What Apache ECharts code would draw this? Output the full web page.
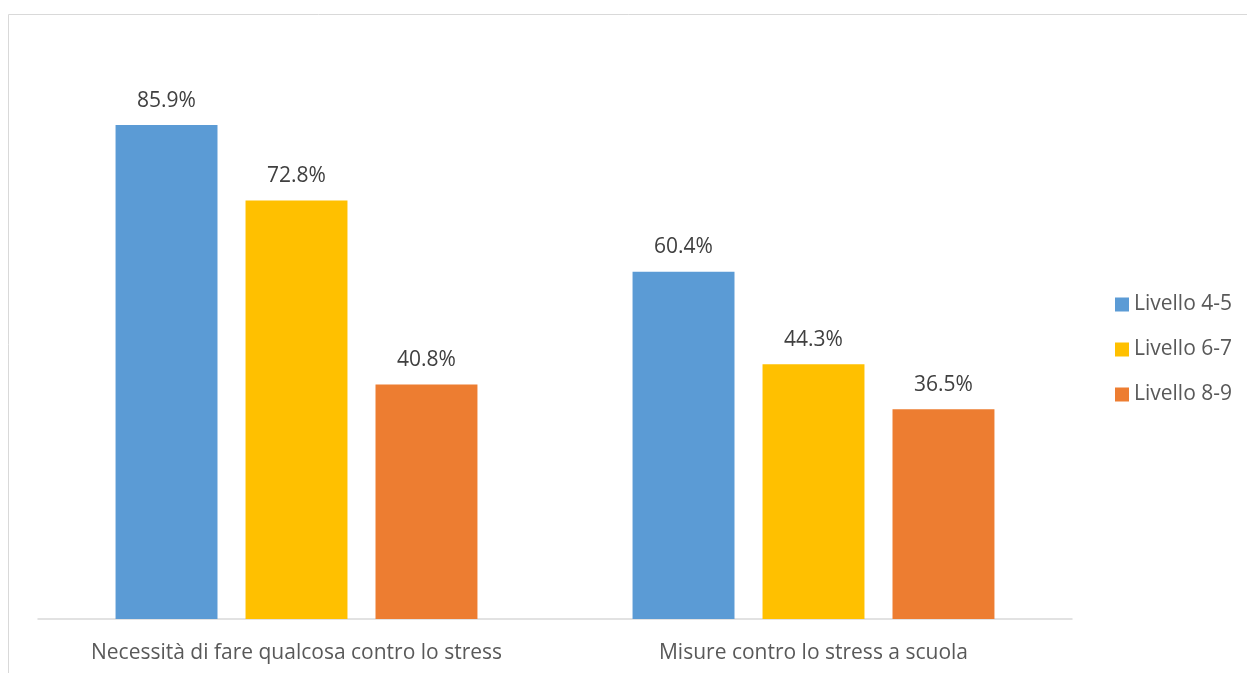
<!DOCTYPE html>
<html>
<head>
<meta charset="utf-8">
<script src="https://cdn.jsdelivr.net/npm/echarts@6/dist/echarts.min.js"></script>
<style>html,body{margin:0;padding:0;background:#fff}#c{width:1247px;height:673px}</style>
</head>
<body>
<div id="c"></div>
<script>
const categories = ['Necessità di fare qualcosa contro lo stress', 'Misure contro lo stress a scuola'];
const seriesNames = ['Livello 4-5', 'Livello 6-7', 'Livello 8-9'];
const livello45 = [85.9, 60.4];
const livello67 = [72.8, 44.3];
const livello89 = [40.8, 36.5];
const colors = ['#5B9BD5', '#FFC000', '#ED7D31'];
const FONT = 'Open Sans';
const chart = echarts.init(document.getElementById('c'));
const mk = (name, data, color) => ({
  name, type: 'bar', data,
  barGap: '27.5%', barCategoryGap: '30%',
  itemStyle: { color },
  label: { show: true, position: 'top', distance: 14, formatter: p => p.value.toFixed(1) + '%', color: '#404040', fontSize: 21, fontFamily: FONT }
});
chart.setOption({
  animation: false,
  graphic: [{ type: 'rect', shape: { x: 8.5, y: 14.5, width: 1400, height: 800 }, style: { fill: 'none', stroke: '#d9d9d9', lineWidth: 1 }, silent: true }],
  grid: { left: 38, right: 175, top: 44, bottom: 54, containLabel: false },
  legend: {
    orient: 'vertical', left: 1110, top: 289,
    itemWidth: 14, itemHeight: 14, itemGap: 24,
    icon: 'rect',
    textStyle: { color: '#595959', fontSize: 21, fontFamily: FONT },
    data: seriesNames
  },
  xAxis: {
    type: 'category', data: categories,
    axisLine: { lineStyle: { color: '#d9d9d9', width: 1.5 } },
    axisTick: { show: false },
    axisLabel: { color: '#595959', fontSize: 21, fontFamily: FONT, margin: 24, interval: 0 }
  },
  yAxis: { type: 'value', min: 0, max: 100, show: false, splitLine: { show: false } },
  series: [mk(seriesNames[0], livello45, colors[0]), mk(seriesNames[1], livello67, colors[1]), mk(seriesNames[2], livello89, colors[2])]
});
</script>
</body>
</html>
